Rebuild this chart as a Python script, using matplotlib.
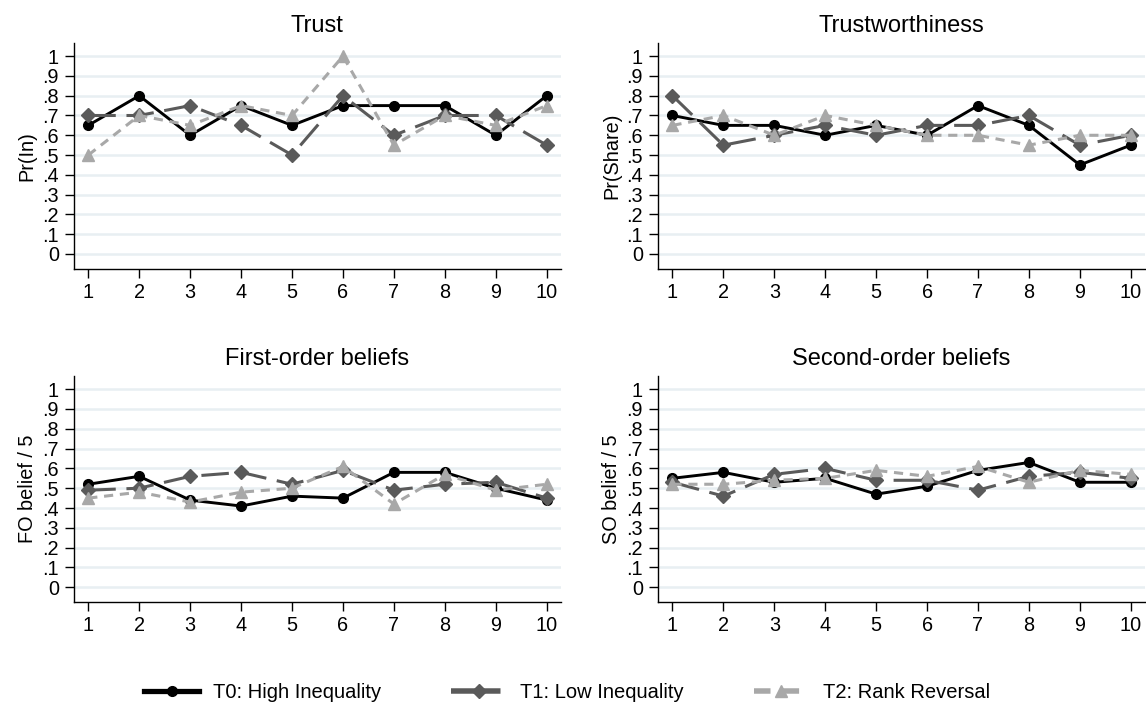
import matplotlib
matplotlib.use("Agg")
import matplotlib.pyplot as plt
from matplotlib.lines import Line2D

plt.rcParams['font.family'] = ['Liberation Sans', 'DejaVu Sans']

periods = list(range(1, 11))
series_labels = ["T0: High Inequality", "T1: Low Inequality", "T2: Rank Reversal"]
panel_titles = ["Trust", "Trustworthiness", "First-order beliefs", "Second-order beliefs"]
y_labels = ["Pr(In)", "Pr(Share)", "FO belief / 5", "SO belief / 5"]
ytick_vals = [0, .1, .2, .3, .4, .5, .6, .7, .8, .9, 1]
ytick_labels = ["0", ".1", ".2", ".3", ".4", ".5", ".6", ".7", ".8", ".9", "1"]

trust_t0 = [0.65, 0.80, 0.60, 0.75, 0.65, 0.75, 0.75, 0.75, 0.60, 0.80]
trust_t1 = [0.70, 0.70, 0.75, 0.65, 0.50, 0.80, 0.60, 0.70, 0.70, 0.55]
trust_t2 = [0.50, 0.70, 0.65, 0.75, 0.70, 1.00, 0.55, 0.70, 0.65, 0.75]

tw_t0 = [0.70, 0.65, 0.65, 0.60, 0.65, 0.60, 0.75, 0.65, 0.45, 0.55]
tw_t1 = [0.80, 0.55, 0.60, 0.65, 0.60, 0.65, 0.65, 0.70, 0.55, 0.60]
tw_t2 = [0.65, 0.70, 0.60, 0.70, 0.65, 0.60, 0.60, 0.55, 0.60, 0.60]

fo_t0 = [0.52, 0.56, 0.44, 0.41, 0.46, 0.45, 0.58, 0.58, 0.50, 0.44]
fo_t1 = [0.49, 0.50, 0.56, 0.58, 0.52, 0.59, 0.49, 0.52, 0.53, 0.45]
fo_t2 = [0.45, 0.48, 0.43, 0.48, 0.50, 0.61, 0.42, 0.57, 0.49, 0.52]

so_t0 = [0.55, 0.58, 0.53, 0.55, 0.47, 0.51, 0.59, 0.63, 0.53, 0.53]
so_t1 = [0.53, 0.46, 0.57, 0.60, 0.54, 0.54, 0.49, 0.56, 0.58, 0.55]
so_t2 = [0.52, 0.52, 0.54, 0.55, 0.59, 0.56, 0.61, 0.53, 0.59, 0.57]

panels = [
    (trust_t0, trust_t1, trust_t2),
    (tw_t0, tw_t1, tw_t2),
    (fo_t0, fo_t1, fo_t2),
    (so_t0, so_t1, so_t2),
]

styles = [
    dict(color='#000000', linestyle='-', marker='o', markersize=7, linewidth=2.1),
    dict(color='#5a5a5a', linestyle=(0, (9, 3.5)), marker='D', markersize=6.8, linewidth=2.2),
    dict(color='#a8a8a8', linestyle=(0, (3, 2.2)), marker='^', markersize=8, linewidth=2.2),
]

W, H = 1146, 713
fig = plt.figure(figsize=(W / 100, H / 100), dpi=100)

# pixel boxes: left, right, top, bottom
boxes = [
    (73.5, 561, 42.7, 269),
    (657.7, 1145, 42.7, 269),
    (73.5, 561, 375.7, 602.3),
    (657.7, 1145, 375.7, 602.3),
]

grid_color = '#e8eff2'

for i, (box, data) in enumerate(zip(boxes, panels)):
    l, r, t, b = box
    ax = fig.add_axes([l / W, (H - b) / H, (r - l) / W, (b - t) / H])
    for vals, st in zip(data, styles):
        ax.plot(periods, vals, **st, zorder=3)
    ax.set_xlim(0.71, 10.28)
    ax.set_ylim(-0.076, 1.068)
    ax.set_xticks(periods)
    ax.set_yticks(ytick_vals)
    ax.set_yticklabels(ytick_labels)
    ax.tick_params(axis='both', labelsize=14.3, direction='out', width=1.0, colors='black')
    ax.tick_params(axis='y', length=6.5, pad=4)
    ax.tick_params(axis='x', length=6.5, pad=3.7)
    ax.yaxis.grid(True, color=grid_color, linewidth=1.8, zorder=0)
    ax.set_axisbelow(True)
    for s in ['top', 'right']:
        ax.spines[s].set_visible(False)
    for s in ['left', 'bottom']:
        ax.spines[s].set_linewidth(1.0)
    ax.set_ylabel(y_labels[i], fontsize=14.3, labelpad=4)
    ax.set_title(panel_titles[i], fontsize=17, pad=8)

handles = [Line2D([0], [0], **dict(st, linewidth=st['linewidth'] * 1.8)) for st in styles]
fig.legend(handles, series_labels, loc='center', bbox_to_anchor=(567 / W, (H - 693) / H),
           ncol=3, frameon=False, fontsize=14.5, handlelength=2.7, columnspacing=3.5,
           handletextpad=0.7)

fig.savefig("out.png", dpi=100, facecolor='white')
